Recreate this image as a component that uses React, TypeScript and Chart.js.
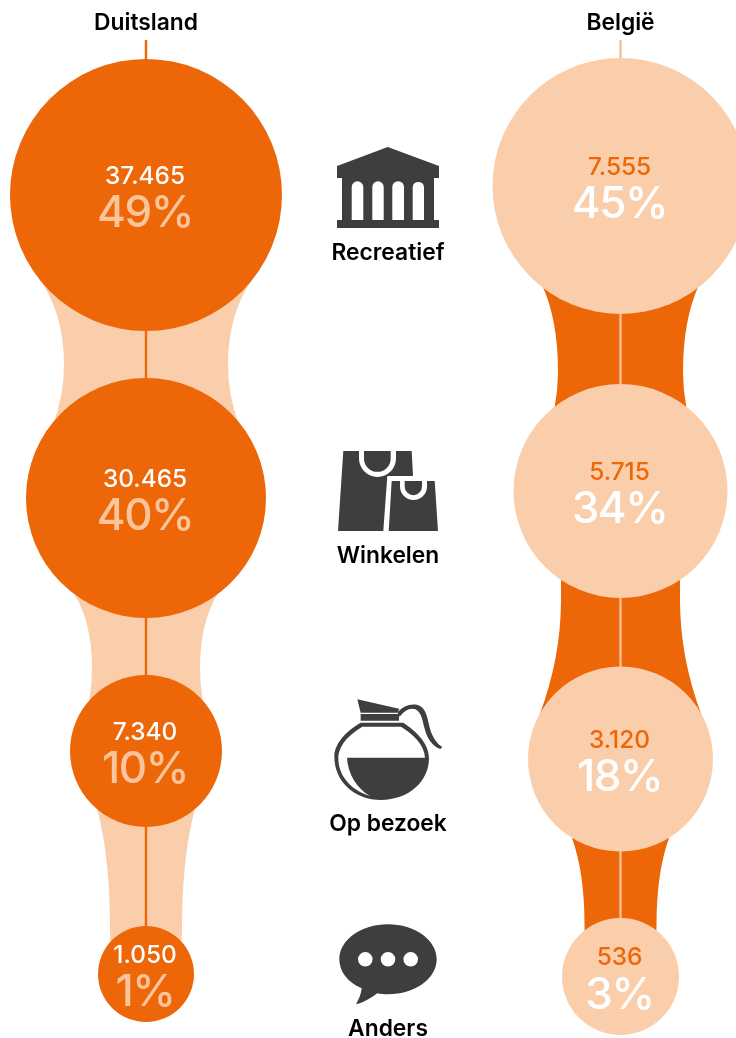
import { useEffect, useRef } from "react";
import Chart from "chart.js/auto";

// ---- data ----
const categories = ["Recreatief", "Winkelen", "Op bezoek", "Anders"];
const countries = ["Duitsland", "België"];
const duitslandCounts = ["37.465", "30.465", "7.340", "1.050"];
const duitslandShares = ["49%", "40%", "10%", "1%"];
const belgieCounts = ["7.555", "5.715", "3.120", "536"];
const belgieShares = ["45%", "34%", "18%", "3%"];

// bubble placement on the axes (x/y scale units) and bubble radius
const duitslandX = [146, 146, 146, 146];
const duitslandY = [195, 498, 751, 974];
const duitslandR = [136, 120, 76, 48];
const belgieX = [620.5, 620.5, 620.5, 620.5];
const belgieY = [186, 491, 759, 976.5];
const belgieR = [128, 107, 92.5, 58.5];

// ---- styling ----
const ORANGE = "#ED6607";
const LIGHT = "#FACEAB";
const ICON = "#3E3E3D";
const NUM_FONT = "Inter";
const LABEL_FONT = "Inter";

// connector outlines: [startHalf, startY, waistHalf, waistY, endHalf, endY]
const duitslandLinks = [
  [108, 277, 82, 365, 93, 425],
  [71, 595, 54, 668, 57, 702],
  [48.5, 810, 36, 930, 35, 945],
];
const belgieLinks = [
  [78, 286, 62.5, 372, 66, 408],
  [59.5, 578, 59.5, 600, 81, 715],
  [48.5, 838, 36, 925, 35.5, 935],
];

const bank =
  "M387.7 147 L439 166 V178 H434 V220 H439 V228 H337 V220 H342 V178 H337 V166 Z " +
  "M351.7 220 H363.3 V187 A5.8 5.8 0 0 0 351.7 187 Z " +
  "M372.3 220 H383.7 V187 A5.7 5.7 0 0 0 372.3 187 Z " +
  "M392.3 220 H404 V187 A5.8 5.8 0 0 0 392.3 187 Z " +
  "M412.7 220 H424 V187 A5.7 5.7 0 0 0 412.7 187 Z";
const bagLarge =
  "M343.3 451 H359 V458.5 A18.5 18.5 0 0 0 396 458.5 V451 H411.7 L413 476 H387.3 L383.3 531 H338 Z " +
  "M364 451 H390.7 V458.5 A13.35 13.35 0 0 1 364 458.5 Z";
const bagSmall =
  "M391.7 481 H400 V486.5 A13.5 13.5 0 0 0 427 486.5 V481 H434.7 L438 531 H388.7 Z " +
  "M404.7 481 H422 V486.5 A8.65 8.65 0 0 1 404.7 486.5 Z";
const bubble =
  "M388 924.3 C415 924.3 436.7 940 436.7 959.3 C436.7 978.6 415 994.3 388 994.3 C384 994.3 381 994 377.3 993.3 C371 998 364 1002.5 356 1004.3 C359 999 361 994 361.7 988.3 C347 982 339.3 971 339.3 959.3 C339.3 940 361 924.3 388 924.3 Z " +
  "M372.6 959.3 A7.3 7.3 0 1 0 358 959.3 A7.3 7.3 0 1 0 372.6 959.3 Z " +
  "M395.3 959.3 A7.3 7.3 0 1 0 380.7 959.3 A7.3 7.3 0 1 0 395.3 959.3 Z " +
  "M418 959.3 A7.3 7.3 0 1 0 403.4 959.3 A7.3 7.3 0 1 0 418 959.3 Z";
// pot icon is in a 3x grid, placed at (325, 690)
const potLid = "M97 28 L222 56 L220 68 L107 68 Z M107 72 H222 V92 H107 Z";
const potBody =
  "M107 98 L235 98 C275 125 312 160 312 205 C312 275 250 330 168 330 C90 330 28 275 28 200 C28 160 65 122 107 98 Z " +
  "M112 110 L228 110 C265 132 298 165 300 203 L66 203 C68 250 95 295 135 318 C75 300 40 255 40 205 C40 165 75 132 112 110 Z";
const potHandle =
  "M218 68 C235 45 265 38 285 48 C310 62 308 105 322 135 C330 152 340 165 352 170 L346 177 C325 170 308 150 300 120 C292 95 292 70 272 58 C255 52 240 60 224 80 Z";

function drawLinks(ctx: CanvasRenderingContext2D, chart: any, meta: any, links: number[][], fill: string) {
  const xs = chart.scales.x;
  const ys = chart.scales.y;
  ctx.fillStyle = fill;
  links.forEach((l, i) => {
    const cx = meta.data[i].x;
    const hx = (v: number) => xs.getPixelForValue(v) - xs.getPixelForValue(0);
    const [a, y0v, w, wyv, b, y1v] = l;
    const y0 = ys.getPixelForValue(y0v);
    const wy = ys.getPixelForValue(wyv);
    const y1 = ys.getPixelForValue(y1v);
    const side = (s: number, forward: boolean) => {
      const c1 = y0 + (wy - y0) * 0.4;
      const c2 = wy + (y1 - wy) * 0.5;
      if (forward) {
        ctx.quadraticCurveTo(cx + s * hx(w), c1, cx + s * hx(w), wy);
        ctx.quadraticCurveTo(cx + s * hx(w), c2, cx + s * hx(b), y1);
      } else {
        ctx.quadraticCurveTo(cx + s * hx(w), c2, cx + s * hx(w), wy);
        ctx.quadraticCurveTo(cx + s * hx(w), c1, cx + s * hx(a), y0);
      }
    };
    ctx.beginPath();
    ctx.moveTo(cx - hx(a), y0);
    side(-1, true);
    ctx.lineTo(cx + hx(b), y1);
    side(1, false);
    ctx.closePath();
    ctx.fill();
  });
}

const decorations = {
  id: "decorations",
  beforeDatasetsDraw(chart: any) {
    const ctx = chart.ctx;
    ctx.save();
    const m0 = chart.getDatasetMeta(0);
    const m1 = chart.getDatasetMeta(1);
    drawLinks(ctx, chart, m0, duitslandLinks, LIGHT);
    drawLinks(ctx, chart, m1, belgieLinks, ORANGE);
    // axis-like spines
    ctx.lineWidth = 2.4;
    ctx.strokeStyle = ORANGE;
    ctx.beginPath();
    ctx.moveTo(m0.data[0].x, 40);
    ctx.lineTo(m0.data[0].x, m0.data[3].y);
    ctx.stroke();
    ctx.strokeStyle = "#F7BF95";
    ctx.beginPath();
    ctx.moveTo(m1.data[0].x, 40);
    ctx.lineTo(m1.data[0].x, m1.data[3].y);
    ctx.stroke();
    ctx.restore();
  },
  afterDatasetsDraw(chart: any) {
    const ctx = chart.ctx;
    ctx.save();
    ctx.textAlign = "center";
    ctx.textBaseline = "middle";
    const label = (meta: any, counts: string[], shares: string[], cCol: string, sCol: string) => {
      meta.data.forEach((el: any, i: number) => {
        ctx.fillStyle = cCol;
        ctx.font = `500 24.4px ${NUM_FONT}`;
        ctx.letterSpacing = "0px";
        ctx.fillText(counts[i], el.x - 1, el.y - 18.5);
        ctx.fillStyle = sCol;
        ctx.font = `500 44px ${NUM_FONT}`;
        ctx.letterSpacing = "-1.5px";
        ctx.fillText(shares[i], el.x - 1, el.y + 19);
      });
    };
    label(chart.getDatasetMeta(0), duitslandCounts, duitslandShares, "#FFFFFF", "#FBC49A");
    label(chart.getDatasetMeta(1), belgieCounts, belgieShares, ORANGE, "#FFFFFF");
    ctx.letterSpacing = "0px";

    // column headings and category names
    ctx.fillStyle = "#000000";
    ctx.font = `600 22.8px ${LABEL_FONT}`;
    ctx.fillText(countries[0], 146, 23);
    ctx.fillText(countries[1], 620.5, 23);
    const rowY = [253, 556, 824, 1029];
    categories.forEach((c, i) => ctx.fillText(c, 388, rowY[i]));

    // icons
    ctx.fillStyle = ICON;
    ctx.fill(new Path2D(bank), "evenodd");
    ctx.fill(new Path2D(bagLarge), "evenodd");
    ctx.fill(new Path2D(bagSmall), "evenodd");
    ctx.fill(new Path2D(bubble), "evenodd");
    ctx.translate(325, 690);
    ctx.scale(1 / 3, 1 / 3);
    ctx.fill(new Path2D(potLid), "evenodd");
    ctx.fill(new Path2D(potHandle), "evenodd");
    ctx.fill(new Path2D(potBody), "evenodd");
    ctx.restore();
  },
};

export default function App() {
  const ref = useRef<HTMLCanvasElement>(null);
  useEffect(() => {
    document.body.style.margin = "0";
    const toPoints = (xs: number[], ys: number[], rs: number[]) =>
      xs.map((x, i) => ({ x, y: ys[i], r: rs[i] }));
    const chart = new Chart(ref.current!, {
      type: "bubble",
      data: {
        datasets: [
          {
            label: countries[0],
            data: toPoints(duitslandX, duitslandY, duitslandR),
            backgroundColor: ORANGE,
            borderWidth: 0,
            clip: false,
          },
          {
            label: countries[1],
            data: toPoints(belgieX, belgieY, belgieR),
            backgroundColor: LIGHT,
            borderWidth: 0,
            clip: false,
          },
        ],
      },
      options: {
        animation: false,
        responsive: false,
        layout: { padding: 0, autoPadding: false },
        plugins: { legend: { display: false }, tooltip: { enabled: false } },
        scales: {
          x: { type: "linear", display: false, min: 0, max: 736 },
          y: { type: "linear", display: false, min: 0, max: 1038, reverse: true },
        },
      },
      plugins: [decorations],
    } as any);
    return () => chart.destroy();
  }, []);
  return <canvas ref={ref} width={736} height={1038} style={{ display: "block" }} />;
}
